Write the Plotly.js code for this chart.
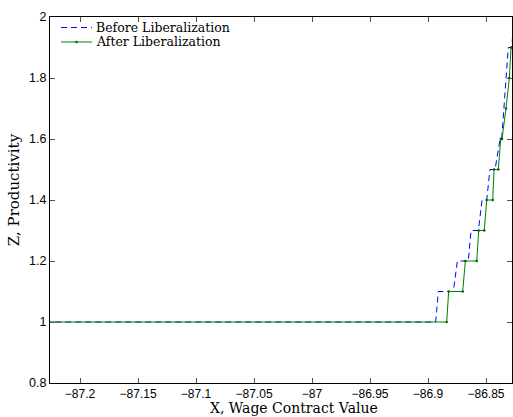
<!DOCTYPE html>
<html>
<head>
<meta charset="utf-8">
<script src="https://cdn.plot.ly/plotly-3.0.1.min.js"></script>
<style>html,body{margin:0;padding:0;background:#fff;}#chart{width:513px;height:417px;}</style>
</head>
<body>
<div id="chart"></div>
<script>
// Before Liberalization (blue dashed)
var beforeX = [-87.2300, -86.8934, -86.8911, -86.8782, -86.8747, -86.8653, -86.8629, -86.8566, -86.8534, -86.8494, -86.8466, -86.8422, -86.8379, -86.8365, -86.8308, -86.8278, -86.8259];
var beforeZ = [1.0, 1.0, 1.1, 1.1, 1.2, 1.2, 1.3, 1.3, 1.4, 1.4, 1.5, 1.5, 1.6, 1.6, 1.9, 1.9, 2.0];
// After Liberalization (green solid with dots)
var afterX = [-87.2300, -86.8839, -86.8822, -86.8701, -86.8678, -86.8580, -86.8563, -86.8515, -86.8494, -86.8442, -86.8431, -86.8394, -86.8373, -86.8362, -86.8328, -86.8299, -86.8284, -86.8259];
var afterZ = [1.0, 1.0, 1.1, 1.1, 1.2, 1.2, 1.3, 1.3, 1.4, 1.4, 1.5, 1.5, 1.6, 1.6, 1.7, 1.8, 1.9, 1.9];
var seriesNames = ["Before Liberalization", "After Liberalization"];
var xTicks = [-87.2, -87.15, -87.1, -87.05, -87, -86.95, -86.9, -86.85];
var yTicks = [0.8, 1, 1.2, 1.4, 1.6, 1.8, 2];
var xTitle = "X, Wage Contract Value";
var yTitle = "Z, Productivity";

var serif = "DejaVu Serif, Liberation Serif, serif";
var sans = "Liberation Sans, Arial, sans-serif";
var blue = "#0000ff", green = "#008000";

var traces = [
  {x: beforeX, y: beforeZ, name: seriesNames[0], mode: "lines",
   line: {color: blue, width: 1, dash: "6px,4px"}},
  {x: afterX, y: afterZ, name: seriesNames[1], mode: "lines+markers",
   line: {color: green, width: 1},
   marker: {color: "#006400", size: 2.5, symbol: "circle"}}
];

var axisCommon = {
  showline: true, linecolor: "#000", linewidth: 1, mirror: "ticks",
  ticks: "inside", ticklen: 5, tickcolor: "#555", tickwidth: 1,
  showgrid: false, zeroline: false,
  tickfont: {family: sans, size: 12.5, color: "#000"}
};

// legend geometry (paper coordinates)
var legX0 = 0.0238, legX1 = 0.0909, legTextX = 0.0974;
var legY = [0.9713, 0.9317];

var layout = {
  width: 513, height: 417,
  margin: {l: 50, r: 1, t: 17, b: 34},
  paper_bgcolor: "#fff", plot_bgcolor: "#fff",
  showlegend: false,
  xaxis: Object.assign({}, axisCommon, {range: [-87.2259, -86.8276], tickvals: xTicks,
    tickfont: {family: sans, size: 12, color: "#000"}}),
  yaxis: Object.assign({}, axisCommon, {range: [0.8, 2.0], tickvals: yTicks}),
  shapes: [
    {type: "line", xref: "paper", yref: "paper", x0: legX0, x1: legX1, y0: legY[0], y1: legY[0],
     line: {color: blue, width: 1, dash: "6px,4px"}},
    {type: "line", xref: "paper", yref: "paper", x0: legX0, x1: legX1, y0: legY[1], y1: legY[1],
     line: {color: green, width: 1}},
    {type: "circle", xref: "paper", yref: "paper", xsizemode: "pixel", ysizemode: "pixel",
     xanchor: (legX0 + legX1) / 2, yanchor: legY[1], x0: -1.2, x1: 1.2, y0: -1.2, y1: 1.2,
     fillcolor: "#006400", line: {width: 0}}
  ],
  annotations: [
    {text: seriesNames[0], xref: "paper", yref: "paper", x: legTextX, y: legY[0],
     xanchor: "left", yanchor: "middle", showarrow: false, borderpad: 0,
     font: {family: serif, size: 12.5, color: "#000"}},
    {text: seriesNames[1], xref: "paper", yref: "paper", x: legTextX, y: legY[1],
     xanchor: "left", yanchor: "middle", showarrow: false, borderpad: 0,
     font: {family: serif, size: 12.5, color: "#000"}},
    {text: xTitle, xref: "paper", yref: "paper", x: 0.528, y: -0.0929,
     xanchor: "center", yanchor: "bottom", showarrow: false, borderpad: 0,
     font: {family: serif, size: 14, color: "#000"}},
    {text: yTitle, xref: "paper", yref: "paper", x: -0.0779, y: 0.527, textangle: -90,
     xanchor: "center", yanchor: "middle", showarrow: false,
     font: {family: serif, size: 15, color: "#000"}}
  ]
};

Plotly.newPlot("chart", traces, layout, {displayModeBar: false, staticPlot: true});
</script>
</body>
</html>
